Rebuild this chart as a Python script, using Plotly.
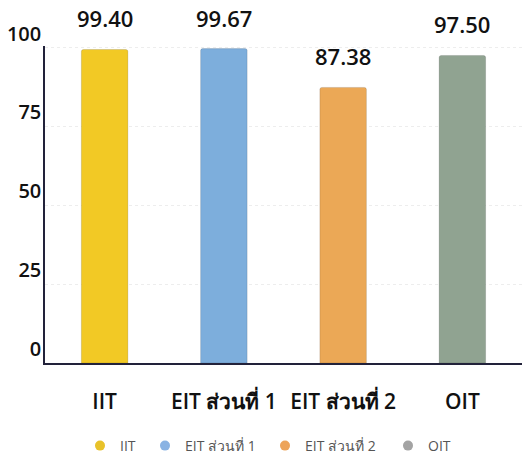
import plotly.graph_objects as go

categories = ["IIT", "EIT ส่วนที่ 1", "EIT ส่วนที่ 2", "OIT"]
values = [99.40, 99.67, 87.38, 97.50]
value_labels = ["99.40", "99.67", "87.38", "97.50"]
bar_colors = ["#F2C925", "#7DAEDC", "#EBA856", "#90A391"]
legend_colors = ["#E8C22A", "#8AB3E3", "#EDA45A", "#A3A3A3"]
y_ticks = [0, 25, 50, 75, 100]

FONT = "Open Sans, Noto Sans, DejaVu Sans, sans-serif"

# plot area spans x 45..522, y 46..363 of the 522x459 page
ML, MT, MB, W, H = 45, 46, 96, 522, 459
PLOT_W = W - ML
PLOT_H = H - MT - MB
legend_marker_px = [100, 165, 285, 408]   # marker centres
legend_y_px = 446

fig = go.Figure()
fig.add_trace(go.Bar(
    x=categories, y=values,
    marker=dict(color=bar_colors, line=dict(color="rgba(0,0,0,0.12)", width=1), cornerradius=2),
    showlegend=False, hoverinfo="skip",
))
legend_names = ["legend", "legend2", "legend3", "legend4"]
for name, col, lg in zip(categories, legend_colors, legend_names):
    fig.add_trace(go.Scatter(
        x=[None], y=[None], mode="markers", name=name, legend=lg,
        marker=dict(symbol="circle", size=10, color=col),
    ))

for c, v, t in zip(categories, values, value_labels):
    fig.add_annotation(x=c, y=v, text=t, showarrow=False, yanchor="bottom", yshift=14,
                       font=dict(size=22, color="#111111", family=FONT, weight=600))

legend_layout = {}
for lg, mx in zip(legend_names, legend_marker_px):
    legend_layout[lg] = dict(
        x=(mx - 20 - ML) / PLOT_W, xanchor="left",
        y=-(legend_y_px - (MT + PLOT_H)) / PLOT_H, yanchor="middle",
        orientation="h", font=dict(size=14, color="#555555"), itemwidth=30,
        bgcolor="rgba(0,0,0,0)", borderwidth=0,
    )

fig.update_layout(
    width=W, height=H,
    margin=dict(l=ML, r=0, t=MT, b=MB, autoexpand=False),
    paper_bgcolor="white", plot_bgcolor="white",
    bargap=0.61,
    font=dict(family=FONT, color="#111111"),
    xaxis=dict(showline=True, linecolor="#22223a", linewidth=1.5, showgrid=False,
               tickfont=dict(size=21, color="#111111", weight=600), ticks="", ticklabelstandoff=19,
               range=[-0.5, 3.5], automargin=False),
    yaxis=dict(range=[0, 100.5], tickvals=y_ticks, showline=True, linecolor="#22223a",
               linewidth=1.5, showgrid=True, gridcolor="#ededed", griddash="dot",
               zeroline=False, ticks="", ticklabelposition="outside top", automargin=False,
               ticklabelstandoff=-2,
               tickfont=dict(size=20, color="#111111", weight=600)),
    **legend_layout,
)

fig.write_html("out.html", config={"displayModeBar": False},
               post_script="document.body.style.margin='0';")
